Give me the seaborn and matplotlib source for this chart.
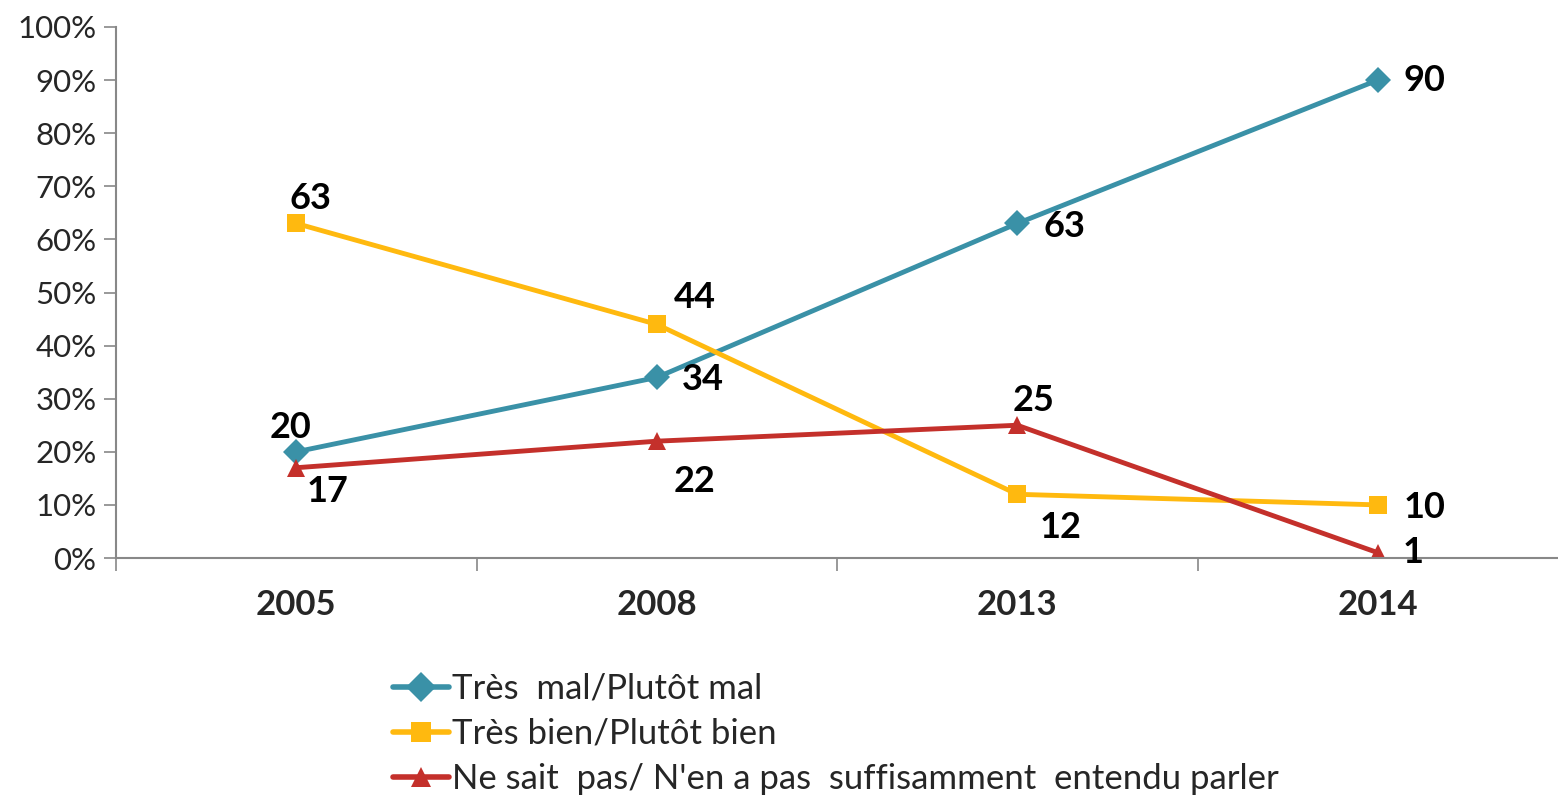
import pandas as pd
import matplotlib.pyplot as plt
import seaborn as sns
from matplotlib.ticker import FuncFormatter, FixedLocator

# ── Data ──────────────────────────────────────────────────────────────────────
YEARS = ['2005', '2008', '2013', '2014']
SERIES = ['Très  mal/Plutôt mal',
          'Très bien/Plutôt bien',
          "Ne sait  pas/ N'en a pas  suffisamment  entendu parler"]
MAL = [20, 34, 63, 90]
BIEN = [63, 44, 12, 10]
NSP = [17, 22, 25, 1]

COLORS = ['#3A91A7', '#FFB90F', '#C4302B']
MARKERS = ['D', 's', '^']
# label offsets (pixels) per series / point
OFFSETS = [
    [(-6, 24), (46, -2), (47, -3), (47, 0)],
    [(14, 25), (38, 27), (43, -33), (47, -3)],
    [(31, -24), (38, -40), (16, 25), (35, 0)],
]

df = pd.DataFrame({
    'year': YEARS * 3,
    'value': MAL + BIEN + NSP,
    'series': [SERIES[0]] * 4 + [SERIES[1]] * 4 + [SERIES[2]] * 4,
})

sns.set_style('white')
plt.rcParams['font.family'] = ['Lato', 'DejaVu Sans']

fig = plt.figure(figsize=(15.58, 7.96), dpi=100)
ax = fig.add_axes([116 / 1558, 1 - 558 / 796, 1 - 116 / 1558, 531 / 796])

sns.lineplot(data=df, x='year', y='value', hue='series', style='series',
             palette=dict(zip(SERIES, COLORS)),
             markers=dict(zip(SERIES, MARKERS)), dashes=False,
             linewidth=3.5, markersize=13, markeredgewidth=0, ax=ax)

# data labels
for vals, offs in zip([MAL, BIEN, NSP], OFFSETS):
    for i, (v, o) in enumerate(zip(vals, offs)):
        ax.annotate(f'{v}', (i, v), xytext=o, textcoords='offset pixels',
                    ha='center', va='center', fontsize=26, fontweight='bold',
                    color='black')

ax.set_xlim(-0.5, 3.5)
ax.set_ylim(0, 100)
ax.set_yticks(range(0, 101, 10))
ax.yaxis.set_major_formatter(FuncFormatter(lambda v, _: f'{v:.0f}%'))
ax.tick_params(axis='y', labelsize=22.5, length=9, width=1.2, color='#888888',
               direction='out', left=True, pad=5)
ax.xaxis.set_major_locator(FixedLocator(range(4)))
ax.set_xticklabels(YEARS, fontsize=25, fontweight='bold')
ax.tick_params(axis='x', length=0, pad=22)
ax.xaxis.set_minor_locator(FixedLocator([-0.5, 0.5, 1.5, 2.5]))
ax.tick_params(axis='x', which='minor', length=9, width=1.2,
               color='#888888', direction='out', bottom=True)
ax.set_xlabel('')
ax.set_ylabel('')

for s in ['top', 'right']:
    ax.spines[s].set_visible(False)
for s in ['left', 'bottom']:
    ax.spines[s].set_color('#888888')
    ax.spines[s].set_linewidth(1.5)

handles, labels = ax.get_legend_handles_labels()
for h in handles:
    h.set_markersize(15)
    h.set_linewidth(4)
ax.legend(handles, labels, loc='upper left', bbox_to_anchor=(393 / 1558, 1 - 673 / 796),
          bbox_transform=fig.transFigure, frameon=False, fontsize=25,
          handlelength=1.6, handletextpad=0.1, labelspacing=0.37,
          borderaxespad=0, borderpad=0)

fig.savefig('out.png', dpi=100, facecolor='white')
